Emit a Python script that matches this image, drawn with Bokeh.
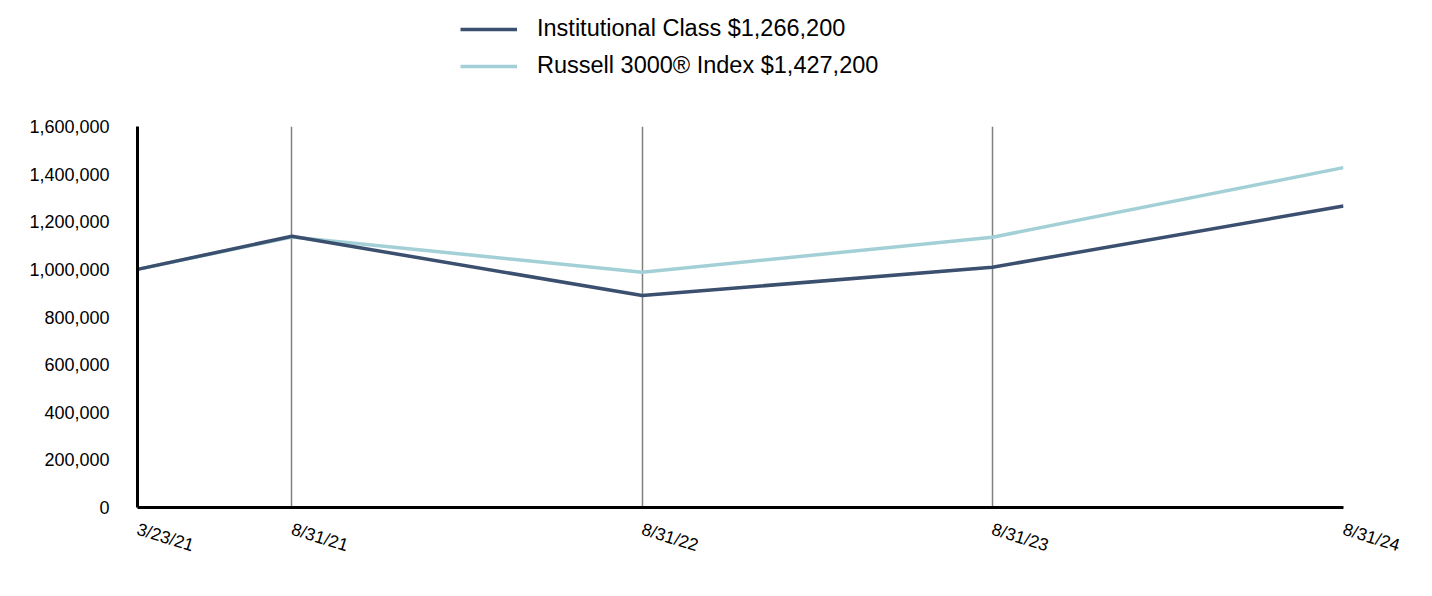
from datetime import datetime
from bokeh.plotting import figure
from bokeh.layouts import column
from bokeh.models import Range1d, FixedTicker, Legend, LegendItem, NumeralTickFormatter
from bokeh.embed import file_html
from bokeh.resources import INLINE

dates = ["2021-03-23", "2021-08-31", "2022-08-31", "2023-08-31", "2024-08-31"]
tick_labels = ["3/23/21", "8/31/21", "8/31/22", "8/31/23", "8/31/24"]
institutional = [1000000, 1139000, 890000, 1009000, 1266200]
russell = [1000000, 1136000, 988000, 1135000, 1427200]
y_ticks = [0, 200000, 400000, 600000, 800000, 1000000, 1200000, 1400000, 1600000]
series_names = ["Institutional Class $1,266,200", "Russell 3000\u00ae Index $1,427,200"]
colors = ["#3B4F6E", "#A3D0D6"]

xs = [datetime.strptime(d, "%Y-%m-%d") for d in dates]
ms = [(x - datetime(1970, 1, 1)).total_seconds() * 1000 for x in xs]

# ---- legend strip (series drawn outside its visible range; only the legend shows) ----
lg = figure(width=1432, height=100, output_backend="svg", toolbar_location=None,
            x_axis_location=None, y_axis_location=None,
            min_border_left=0, min_border_right=0, min_border_top=0, min_border_bottom=0,
            x_range=Range1d(0, 1), y_range=Range1d(0, 1))
lg.outline_line_color = None
lg.grid.visible = False
d1 = lg.line(xs, institutional, line_color=colors[0], line_width=3.5)
d2 = lg.line(xs, russell, line_color=colors[1], line_width=3.5)
legend = Legend(items=[LegendItem(label=series_names[0], renderers=[d1]),
                       LegendItem(label=series_names[1], renderers=[d2])],
                location=(323, 21), orientation="vertical",
                label_text_font="Liberation Sans", label_text_font_size="23.5px",
                label_text_color="black", glyph_width=57, glyph_height=26,
                label_height=26, label_standoff=20, spacing=10, padding=5,
                margin=0, border_line_color=None, background_fill_alpha=0)
lg.add_layout(legend, "center")

# ---- main chart ----
p = figure(width=1432, height=496, x_axis_type="datetime", output_backend="svg",
           toolbar_location=None, min_border_left=137, min_border_right=89,
           min_border_top=26, min_border_bottom=89)
p.x_range = Range1d(ms[0], ms[-1])
p.y_range = Range1d(0, 1600000)
p.outline_line_color = None

r2 = p.line(xs, russell, line_color=colors[1], line_width=3.5)
r1 = p.line(xs, institutional, line_color=colors[0], line_width=3.5)

p.xaxis.ticker = FixedTicker(ticks=ms)
p.xaxis.major_label_overrides = {m: l for m, l in zip(ms, tick_labels)}
p.xaxis.major_label_orientation = -0.3
p.xaxis.axis_line_color = "black"
p.xaxis.axis_line_width = 3
p.xaxis.major_tick_line_color = None
p.xaxis.minor_tick_line_color = None
p.xaxis.major_label_text_font = "Liberation Sans"
p.xaxis.major_label_text_font_size = "17.5px"
p.xaxis.major_label_text_color = "black"
p.xaxis.major_label_standoff = 15

p.yaxis.ticker = FixedTicker(ticks=y_ticks)
p.yaxis.formatter = NumeralTickFormatter(format="0,0")
p.yaxis.axis_line_color = "black"
p.yaxis.axis_line_width = 3
p.yaxis.major_tick_line_color = None
p.yaxis.minor_tick_line_color = None
p.yaxis.major_label_text_font = "Liberation Sans"
p.yaxis.major_label_text_font_size = "18px"
p.yaxis.major_label_text_color = "black"
p.yaxis.major_label_standoff = 22

p.ygrid.grid_line_color = None
p.xgrid.ticker = FixedTicker(ticks=ms)
p.xgrid.grid_line_color = "#808080"
p.xgrid.grid_line_width = 1.5

layout = column(lg, p, spacing=0)
open("out.html", "w").write(file_html(layout, INLINE))
